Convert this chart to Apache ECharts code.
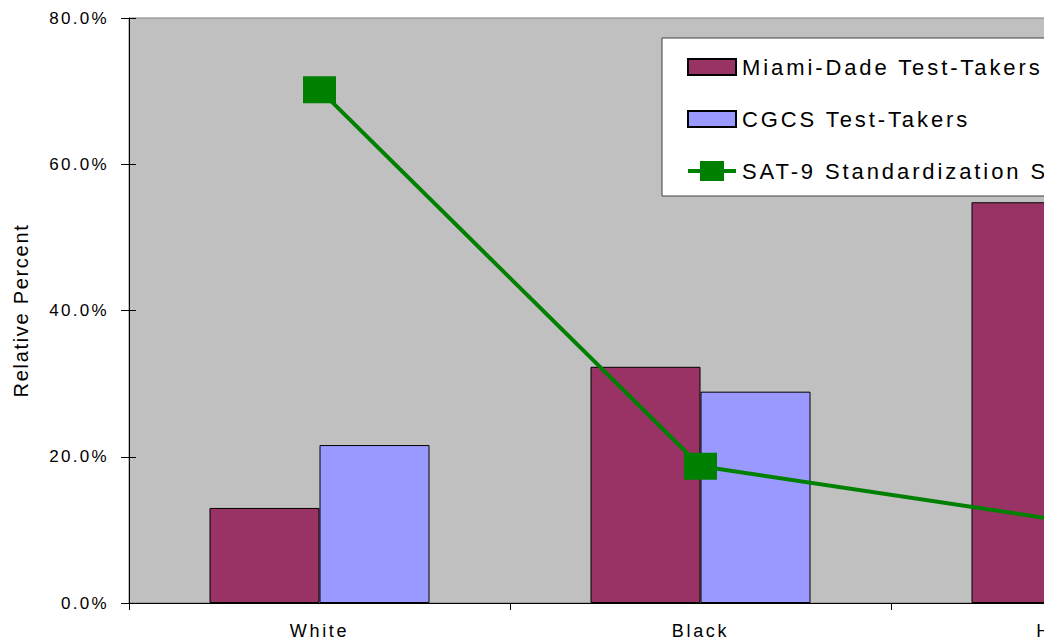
<!DOCTYPE html>
<html>
<head>
<meta charset="utf-8">
<script src="https://cdn.jsdelivr.net/npm/echarts@6/dist/echarts.min.js"></script>
<style>
  html, body { margin: 0; padding: 0; background: #ffffff; overflow: hidden; }
  #wrap { width: 1044px; height: 639px; overflow: hidden; }
  #chart { width: 1300px; height: 639px; }
  #chart text[style*="17px"] { letter-spacing: 2.3px; }
  #chart text[style*="18px"] { letter-spacing: 2.7px; }
  #chart text[style*="20px"] { letter-spacing: 1.7px; }
  #chart text[style*="22px"] { letter-spacing: 2.9px; }
</style>
</head>
<body>
<div id="wrap"><div id="chart"></div></div>
<script>
const categories = ['White', 'Black', 'Hispanic'];
const miamiDade = [13.0, 32.3, 54.8];
const cgcs = [21.6, 28.9, 33.0];
const sat9 = [70.2, 18.7, 10.9];
const seriesNames = ['Miami-Dade Test-Takers', 'CGCS Test-Takers', 'SAT-9 Standardization Sample'];
const yTicks = { min: 0, max: 80, interval: 20 };
const yName = 'Relative Percent';

const FONT = "'Liberation Sans', Arial, sans-serif";
const BAR_ICON = 'path://M0,2L48,2L48,18L0,18Z';
const LINE_ICON = 'path://M0,8L12,8L12,0L36,0L36,8L48,8L48,12L36,12L36,20L12,20L12,12L0,12Z';

const chart = echarts.init(document.getElementById('chart'), null, { renderer: 'svg' });
chart.setOption({
  animation: false,
  backgroundColor: '#ffffff',
  textStyle: { fontFamily: FONT },
  grid: {
    left: 129, top: 18, width: 1143, height: 585,
    show: true, backgroundColor: '#c0c0c0', borderColor: '#808080', borderWidth: 1,
    containLabel: false, outerBoundsMode: 'none'
  },
  legend: {
    orient: 'vertical',
    left: 662, top: 38,
    padding: [18, 140, 14, 25],
    itemWidth: 48, itemHeight: 20, itemGap: 30,
    backgroundColor: '#ffffff', borderColor: '#404040', borderWidth: 1,
    textStyle: { fontSize: 22, color: '#000', fontFamily: FONT, padding: [0, 0, 0, 1] },
    data: [
      { name: seriesNames[0], icon: BAR_ICON },
      { name: seriesNames[1], icon: BAR_ICON },
      { name: seriesNames[2], icon: LINE_ICON, itemStyle: { color: '#008000', borderWidth: 0 } }
    ]
  },
  xAxis: {
    type: 'category',
    data: categories,
    axisLine: { lineStyle: { color: '#000', width: 1 } },
    axisTick: { show: true, length: 7, alignWithLabel: false, lineStyle: { color: '#000' } },
    axisLabel: { fontSize: 18, lineHeight: 15, color: '#000', margin: 20, fontFamily: FONT },
    splitLine: { show: false }
  },
  yAxis: [{
    type: 'value',
    min: yTicks.min, max: yTicks.max, interval: yTicks.interval,
    name: yName, nameLocation: 'middle', nameRotate: 90, nameGap: 98,
    nameTextStyle: { fontSize: 20, color: '#000', fontFamily: FONT },
    axisLine: { show: true, lineStyle: { color: '#000', width: 1 } },
    axisTick: { show: true, length: 8, lineStyle: { color: '#000' } },
    axisLabel: { fontSize: 17, color: '#000', margin: 20, fontFamily: FONT,
      formatter: v => v.toFixed(1) + '%' },
    splitLine: { show: false }
  }, {
    type: 'value', position: 'left',
    min: yTicks.min, max: yTicks.max, interval: yTicks.interval,
    axisLine: { show: false },
    axisTick: { show: true, inside: true, length: 7, lineStyle: { color: '#000' } },
    axisLabel: { show: false },
    splitLine: { show: false }
  }],
  series: [{
    name: seriesNames[0], type: 'bar', data: miamiDade,
    barWidth: 110, barGap: '0%',
    itemStyle: { color: '#993366', borderColor: '#000', borderWidth: 1 }
  }, {
    name: seriesNames[1], type: 'bar', data: cgcs,
    barWidth: 110, barGap: '0%',
    itemStyle: { color: '#9999ff', borderColor: '#000', borderWidth: 1 }
  }, {
    name: seriesNames[2], type: 'line', data: sat9, z: 5,
    symbol: 'rect', symbolSize: [33, 27], showSymbol: true,
    lineStyle: { color: '#008000', width: 4 },
    itemStyle: { color: '#008000' }
  }]
});
</script>
</body>
</html>
